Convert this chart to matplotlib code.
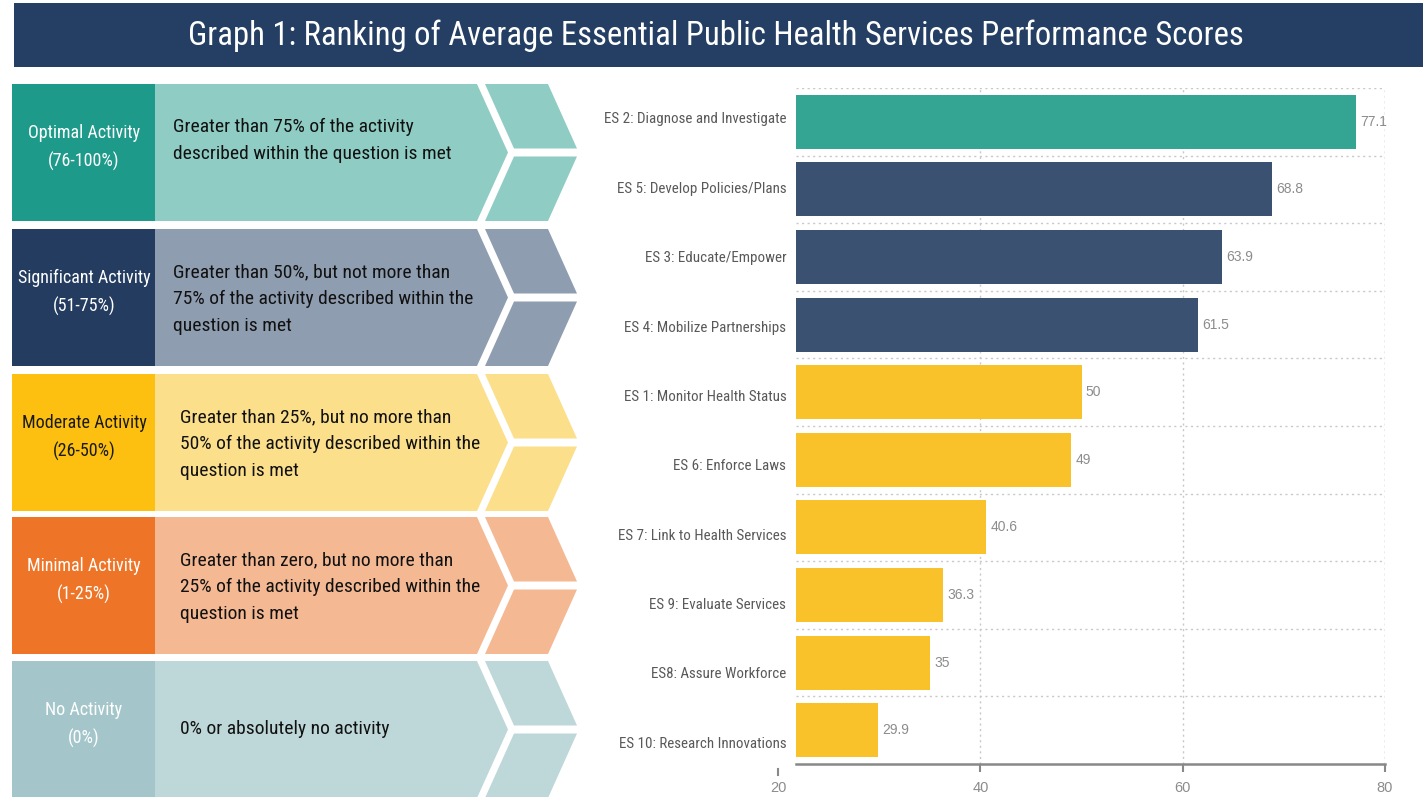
import matplotlib
matplotlib.use("Agg")
import matplotlib.pyplot as plt
from matplotlib import font_manager as fm
from matplotlib.patches import Polygon, Rectangle
from matplotlib.ticker import FixedLocator
import matplotlib.transforms as mtransforms

# ---------------- data ----------------
categories = [
    "ES 2: Diagnose and Investigate",
    "ES 5: Develop Policies/Plans",
    "ES 3: Educate/Empower",
    "ES 4: Mobilize Partnerships",
    "ES 1: Monitor Health Status",
    "ES 6: Enforce Laws",
    "ES 7: Link to Health Services",
    "ES 9: Evaluate Services",
    "ES8: Assure Workforce",
    "ES 10: Research Innovations",
]
scores = [77.1, 68.8, 63.9, 61.5, 50, 49, 40.6, 36.3, 35, 29.9]
score_labels = ["77.1", "68.8", "63.9", "61.5", "50", "49", "40.6", "36.3", "35", "29.9"]
x_ticks = [20, 40, 60, 80]

level_names = ["Optimal Activity\n(76-100%)", "Significant Activity\n(51-75%)",
               "Moderate Activity\n(26-50%)", "Minimal Activity\n(1-25%)",
               "No Activity\n(0%)"]
level_descs = [
    "Greater than 75% of the activity\ndescribed within the question is met",
    "Greater than 50%, but not more than\n75% of the activity described within the\nquestion is met",
    "Greater than 25%, but no more than\n50% of the activity described within the\nquestion is met",
    "Greater than zero, but no more than\n25% of the activity described within the\nquestion is met",
    "0% or absolutely no activity",
]
dark_colors = ["#1E9A8A", "#233C60", "#FDC011", "#EE7427", "#A4C6CB"]
light_colors = ["#8FCDC4", "#8F9DB0", "#FCDF8B", "#F4B893", "#BED7D9"]
name_colors = ["white", "white", "#1a1a1a", "white", "white"]

title = "Graph 1: Ranking of Average Essential Public Health Services Performance Scores"

# ---------------- fonts ----------------
names = {f.name for f in fm.fontManager.ttflist}
cond = {f.name for f in fm.fontManager.ttflist if str(f.stretch) in ("condensed", "semi-condensed", "extra-condensed")}
if "Roboto Condensed" in names:
    CF = dict(family="Roboto Condensed")
elif "Liberation Sans Narrow" in names:
    CF = dict(family="Liberation Sans Narrow")
elif "DejaVu Sans" in cond:
    CF = dict(family="DejaVu Sans", stretch="condensed")
else:
    CF = dict(family="DejaVu Sans")
NF = dict(family="Liberation Sans" if "Liberation Sans" in names else "DejaVu Sans")

W, H = 1427, 797
fig = plt.figure(figsize=(W / 100, H / 100), dpi=100)
fig.patch.set_facecolor("white")

# ---------------- overlay (title + legend panel) ----------------
ov = fig.add_axes([0, 0, 1, 1])
ov.set_xlim(0, W)
ov.set_ylim(H, 0)
ov.axis("off")

ov.add_patch(Rectangle((14, 3), 1409, 64, facecolor="#243F63", edgecolor="none"))
ov.text(716, 36, title, color="white", fontsize=23.5, ha="center", va="center", **CF)

row_tops = [84, 229, 374, 517, 661]
row_h = 137
for i, top in enumerate(row_tops):
    bot = top + row_h
    mid = top + row_h / 2
    ov.add_patch(Rectangle((12, top), 143, row_h, facecolor=dark_colors[i], edgecolor="none"))
    ov.add_patch(Polygon([(155, top), (477, top), (508, mid), (477, bot), (155, bot)],
                         closed=True, facecolor=light_colors[i], edgecolor="none"))
    ov.add_patch(Polygon([(485, top), (548, top), (577, mid - 4), (514, mid - 4)],
                         closed=True, facecolor=light_colors[i], edgecolor="none"))
    ov.add_patch(Polygon([(514, mid + 4), (577, mid + 4), (548, bot), (485, bot)],
                         closed=True, facecolor=light_colors[i], edgecolor="none"))
    ov.text(84, mid - 5, level_names[i], color=name_colors[i], fontsize=13,
            ha="center", va="center", linespacing=1.6, **CF)
    tx = 173 if i < 2 else 180
    if "\n" in level_descs[i]:
        ov.text(tx, top + 34, level_descs[i], color="#111111", fontsize=14,
                ha="left", va="top", linespacing=1.62, **CF)
    else:
        ov.text(tx, mid, level_descs[i], color="#111111", fontsize=14,
                ha="left", va="center", **CF)

# ---------------- bar chart ----------------
ax_l, ax_r, ax_t, ax_b = 796, 1385, 88, 764
ax = fig.add_axes([ax_l / W, 1 - ax_b / H, (ax_r - ax_l) / W, (ax_b - ax_t) / H])
ax.set_facecolor("none")

def bar_color(v):
    if v > 75:
        return "#35A593"
    if v > 50:
        return "#3A5172"
    return "#F9C22B"

ypos = list(range(len(categories)))
ax.barh(ypos, scores, height=0.8, color=[bar_color(v) for v in scores], zorder=3)

x0 = 20 + (ax_l - 778) / ((1385 - 778) / 60)
ax.set_xlim(x0, 80)
ax.set_ylim(len(categories) - 0.5, -0.5)

for y, v, s in zip(ypos, scores, score_labels):
    ax.annotate(s, (v, y), xytext=(3, 0), textcoords="offset points",
                ha="left", va="center", fontsize=10, color="#8c8c8c", **NF)

ax.set_yticks(ypos)
ax.set_yticklabels(categories, fontsize=10.8, color="#595959", **CF)
ax.tick_params(axis="y", length=0, pad=7)
# category labels in the source are spaced slightly wider than the bars
for i, lbl in enumerate(ax.get_yticklabels()):
    shift = (3.8 - 1.76 * i) / 100.0
    lbl.set_transform(lbl.get_transform() + mtransforms.ScaledTranslation(0, shift, fig.dpi_scale_trans))
ax.yaxis.set_minor_locator(FixedLocator([k - 0.5 for k in range(len(categories))]))
ax.tick_params(axis="y", which="minor", length=0)

shown = [t for t in x_ticks if t >= x0]
ax.set_xticks(shown)
ax.set_xticklabels([str(t) for t in shown], fontsize=10.5, color="#8c8c8c", **NF)
ax.tick_params(axis="x", length=6, width=1.5, color="#888888", pad=6)
# the first tick lies left of the plotting area
hidden = [t for t in x_ticks if t < x0]
blend = mtransforms.blended_transform_factory(ax.transData, ax.transAxes)
for t in hidden:
    ax.annotate(str(t), (t, 0), xycoords=blend,
                xytext=(0, -12), textcoords="offset points", ha="center", va="top",
                fontsize=10.5, color="#8c8c8c", annotation_clip=False, **NF)
    ax.plot([t, t], [-0.008, -0.016], transform=blend, color="#888888",
            linewidth=1.5, clip_on=False)

ax.grid(axis="x", which="major", linestyle=(0, (1.5, 2.5)), color="#c8c8c8", linewidth=1, zorder=0)
ax.grid(axis="y", which="minor", linestyle=(0, (1.5, 2.5)), color="#c8c8c8", linewidth=1, zorder=0)
ax.grid(axis="y", which="major", visible=False)

for side in ("top", "left", "right"):
    ax.spines[side].set_visible(False)
ax.spines["bottom"].set_color("#888888")
ax.spines["bottom"].set_linewidth(1.8)
ax.axvline(80, color="#c8c8c8", linestyle=(0, (1.5, 2.5)), linewidth=1, zorder=0)

fig.savefig("out.png", dpi=100, facecolor="white")
